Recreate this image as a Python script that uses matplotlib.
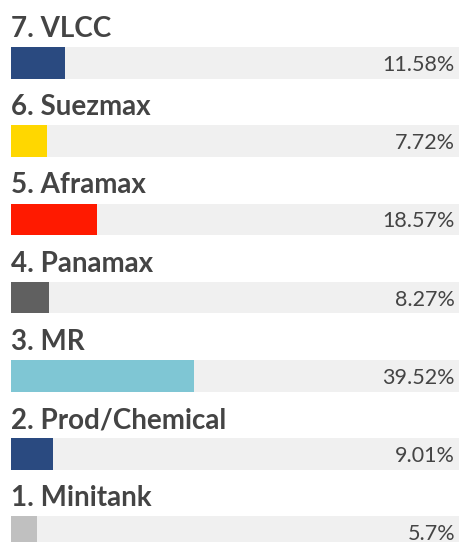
import matplotlib
matplotlib.use("Agg")
import matplotlib.pyplot as plt

categories = ["7. VLCC", "6. Suezmax", "5. Aframax", "4. Panamax", "3. MR", "2. Prod/Chemical", "1. Minitank"]
values = [11.58, 7.72, 18.57, 8.27, 39.52, 9.01, 5.7]
value_labels = ["11.58%", "7.72%", "18.57%", "8.27%", "39.52%", "9.01%", "5.7%"]
colors = ["#2a4a80", "#ffd700", "#ff1a00", "#606060", "#7fc6d4", "#2a4a80", "#c0c0c0"]

W, H = 460, 542
fig = plt.figure(figsize=(W / 100, H / 100), dpi=100)
left_px = 11
ax = fig.add_axes([left_px / W, 0, 1 - left_px / W, 1])
scale_px = 463.0  # pixels per 100%
xmax = (W - left_px) / scale_px * 100
step = 78.2
y0 = 63.0
ax.set_xlim(0, xmax)
ax.set_ylim((H - y0) / step, -y0 / step)
ax.axis("off")

pos = list(range(len(categories)))
bar_h = 31.5 / step
ax.barh(pos, [xmax] * len(pos), height=bar_h, color="#f0f0f0", left=0)
ax.barh(pos, values, height=bar_h, color=colors, left=0)

for i, (cat, lab) in enumerate(zip(categories, value_labels)):
    ax.text(0, i - 26 / step, cat, fontsize=20, fontweight="bold", family="Lato",
            color="#444444", ha="left", va="baseline")
    ax.text((455 - left_px) / (W - left_px), i, lab, fontsize=15.5, family="Lato",
            color="#444444", ha="right", va="center_baseline",
            transform=ax.get_yaxis_transform())

fig.savefig("out.png", dpi=100)
